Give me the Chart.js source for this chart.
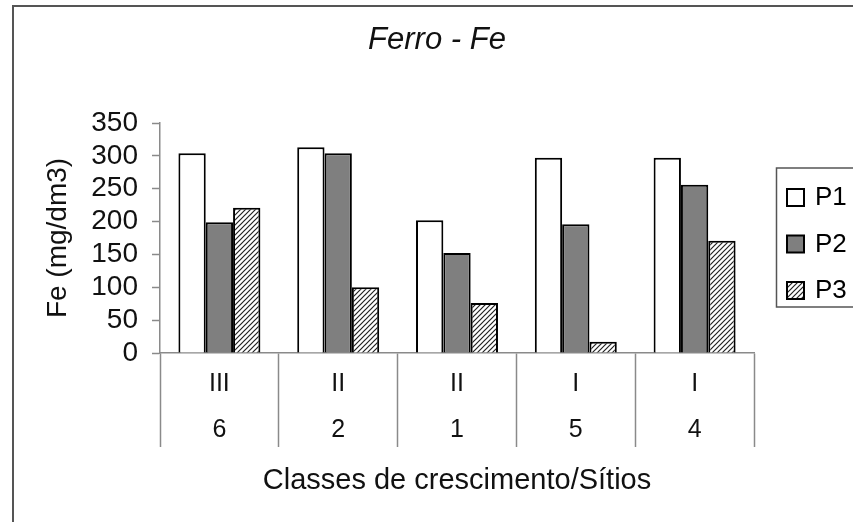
<!DOCTYPE html>
<html>
<head>
<meta charset="utf-8">
<script src="https://cdn.jsdelivr.net/npm/chart.js@4.4.0/dist/chart.umd.min.js"></script>
<style>
    html, body { margin: 0; padding: 0; background: #fff; overflow: hidden; }
    #quadro {
        position: absolute; left: 12px; top: 5px; width: 900px; height: 600px;
        border: 2px solid #555; box-sizing: border-box;
    }
    #grafico { position: absolute; left: 0; top: 0; }
</style>
</head>
<body>
<div id="quadro"></div>
<!-- o gráfico original é um pouco mais largo que a janela; a borda direita fica cortada -->
<canvas id="grafico" width="874" height="522"></canvas>
<script>
const CLASSES = ['III', 'II', 'II', 'I', 'I'];
const SITIOS = ['6', '2', '1', '5', '4'];
const SERIES = ['P1', 'P2', 'P3'];
const VALORES_P1 = [304, 313, 202, 297, 297];
const VALORES_P2 = [199, 304, 152, 196, 256];
const VALORES_P3 = [221, 100, 76, 17, 171];
const TICKS_Y = [0, 50, 100, 150, 200, 250, 300, 350];

const FONTE = "'Liberation Sans', Arial, sans-serif";
const CINZA_EIXO = '#8a8a8a';

function criarHachura() {
    const tile = document.createElement('canvas');
    tile.width = 5;
    tile.height = 5;
    const ctx = tile.getContext('2d');
    ctx.fillStyle = '#fff';
    ctx.fillRect(0, 0, 5, 5);
    ctx.strokeStyle = '#222';
    ctx.lineWidth = 1.2;
    ctx.beginPath();
    ctx.moveTo(0, 5); ctx.lineTo(5, 0);
    ctx.moveTo(-1, 1); ctx.lineTo(1, -1);
    ctx.moveTo(4, 6); ctx.lineTo(6, 4);
    ctx.stroke();
    return ctx.createPattern(tile, 'repeat');
}

// legenda com moldura, desenhada à mão
const legendaComMoldura = {
    id: 'legendaComMoldura',
    afterDraw(chart) {
        const ctx = chart.ctx;
        ctx.save();
        ctx.strokeStyle = '#555';
        ctx.lineWidth = 1.5;
        ctx.strokeRect(776.5, 168, 120, 139);
        ctx.font = `26px ${FONTE}`;
        ctx.textBaseline = 'middle';
        chart.data.datasets.forEach((ds, i) => {
            const y = 197 + i * 46.5;
            ctx.fillStyle = ds.backgroundColor;
            ctx.fillRect(787, y - 8, 17, 17);
            ctx.strokeStyle = '#000';
            ctx.lineWidth = 2;
            ctx.strokeRect(787, y - 8, 17, 17);
            ctx.fillStyle = '#000';
            ctx.fillText(ds.label, 815, y + 1);
        });
        ctx.restore();
    },
};

const cores = ['#ffffff', '#7f7f7f', criarHachura()];
const valores = [VALORES_P1, VALORES_P2, VALORES_P3];

new Chart(document.getElementById('grafico'), {
    type: 'bar',
    data: {
        labels: CLASSES.map((c, i) => [c, SITIOS[i]]),
        datasets: SERIES.map((nome, i) => ({
            label: nome,
            data: valores[i],
            backgroundColor: cores[i],
            borderColor: '#000',
            borderWidth: 2,
            categoryPercentage: 0.69,
            barPercentage: 1.0,
        })),
    },
    options: {
        responsive: false,
        animation: false,
        devicePixelRatio: 1,
        layout: { padding: 0 },
        plugins: {
            legend: { display: false },
            tooltip: { enabled: false },
            title: {
                display: true,
                text: 'Ferro - Fe',
                color: '#111',
                font: { family: FONTE, size: 31, style: 'italic', weight: 'normal', lineHeight: 1.2 },
                padding: { top: 22, bottom: 63.8 },
            },
        },
        scales: {
            x: {
                afterFit: (escala) => { escala.height = 169; },
                border: { color: CINZA_EIXO, width: 1.5 },
                grid: {
                    drawOnChartArea: false,
                    offset: true,
                    tickLength: 94,
                    tickColor: CINZA_EIXO,
                    tickWidth: 1.5,
                },
                ticks: {
                    color: '#111',
                    padding: -85.5,
                    font: { family: FONTE, size: 25, lineHeight: 46 / 25 },
                },
                title: {
                    display: true,
                    text: 'Classes de crescimento/Sítios',
                    color: '#111',
                    font: { family: FONTE, size: 29 },
                    padding: { top: 0, bottom: 23.6 },
                },
            },
            y: {
                min: 0,
                max: 350,
                afterFit: (escala) => { escala.width = 160; },
                afterBuildTicks: (escala) => { escala.ticks = TICKS_Y.map((v) => ({ value: v })); },
                border: { color: CINZA_EIXO, width: 1.5 },
                grid: {
                    drawOnChartArea: false,
                    tickLength: 8,
                    tickColor: CINZA_EIXO,
                    tickWidth: 1.5,
                },
                ticks: {
                    color: '#111',
                    padding: 14,
                    autoSkip: false,
                    font: { family: FONTE, size: 28 },
                },
                title: {
                    display: true,
                    text: 'Fe (mg/dm3)',
                    color: '#111',
                    font: { family: FONTE, size: 28 },
                    padding: { top: 41, bottom: 0 },
                },
            },
            // eixo vazio à direita, só para reservar o espaço da legenda
            reserva: {
                type: 'linear',
                position: 'right',
                afterFit: (escala) => { escala.width = 120; },
                ticks: { display: false },
                grid: { display: false },
                border: { display: false },
            },
        },
    },
    plugins: [legendaComMoldura],
});
</script>
</body>
</html>
